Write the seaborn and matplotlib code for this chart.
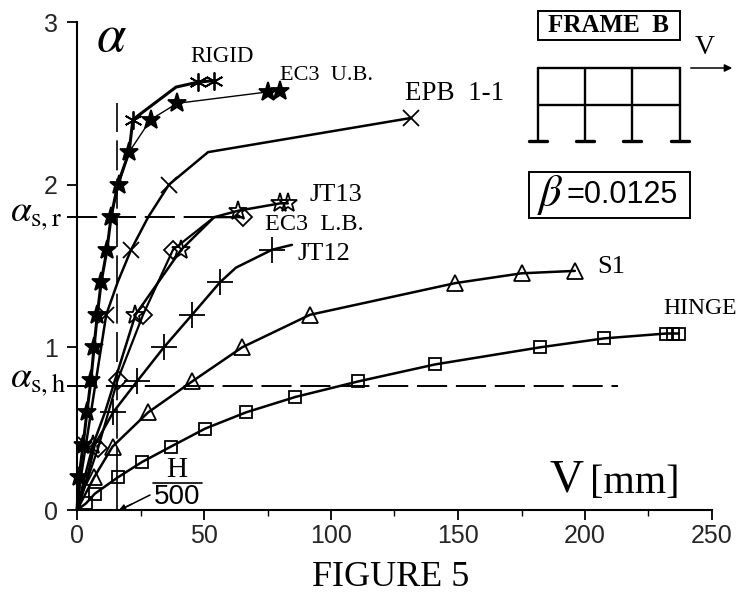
import matplotlib
matplotlib.use("Agg")
import matplotlib.pyplot as plt
import seaborn as sns

sns.set_style("ticks")
plt.rcParams["font.family"] = ["Liberation Serif", "DejaVu Serif"]
plt.rcParams["mathtext.fontset"] = "stix"

# ---------------- curves ----------------
rigid_v = [0, 0.8, 2.4, 3.9, 5.5, 6.7, 8, 9.5, 11.8, 13.4, 16, 20.5, 22, 39, 47.6, 54]
rigid_a = [0, 0.2, 0.4, 0.6, 0.8, 1.0, 1.2, 1.4, 1.6, 1.8, 2.0, 2.2, 2.4, 2.6, 2.63, 2.64]
rigid_marks = [12, 14, 15]

ub_v = [0, 0.8, 2.4, 3.9, 5.5, 6.7, 8, 9.5, 11.8, 13.4, 16.5, 20.5, 29, 39.4, 75, 80]
ub_a = [0, 0.2, 0.4, 0.6, 0.8, 1.0, 1.2, 1.4, 1.6, 1.8, 2.0, 2.2, 2.4, 2.5, 2.57, 2.575]

epb_v = [0, 1.5, 3.5, 5.5, 7.5, 9.5, 11.5, 16, 21.3, 28, 36.2, 51.6, 131.5]
epb_a = [0, 0.2, 0.4, 0.6, 0.8, 1.0, 1.2, 1.4, 1.6, 1.8, 2.0, 2.2, 2.41]
epb_marks = [2, 6, 8, 10, 12]

jt13_v = [0, 3, 6.3, 11, 15, 19, 23, 32, 41, 54, 63.5, 80, 83]
jt13_a = [0, 0.2, 0.4, 0.6, 0.8, 1.0, 1.2, 1.4, 1.6, 1.8, 1.84, 1.885, 1.885]
jt13_marks = [2, 6, 8, 10, 11, 12]

lb_v = [0, 8.3, 16, 26, 37.8, 54, 65.5]
lb_a = [0, 0.38, 0.8, 1.2, 1.6, 1.8, 1.8]
lb_marks = [1, 2, 3, 4, 6]

jt12_v = [0, 4, 7, 14.2, 23.6, 34.2, 45.3, 56.3, 62.6, 76.8, 84.6]
jt12_a = [0, 0.2, 0.4, 0.6, 0.79, 1.0, 1.2, 1.4, 1.49, 1.6, 1.63]
jt12_marks = [3, 4, 5, 6, 7, 9]

s1_v = [0, 6.7, 14, 28, 45.3, 65, 91.7, 149, 175, 196]
s1_a = [0, 0.2, 0.39, 0.6, 0.79, 1.0, 1.2, 1.395, 1.455, 1.47]

hinge_v = [0, 3.5, 7, 16, 25.6, 37, 50.4, 66.5, 86, 110.6, 141, 182.3, 207.5, 232, 234.5, 237]
hinge_a = [0, 0.04, 0.1, 0.2, 0.295, 0.39, 0.5, 0.6, 0.695, 0.79, 0.895, 1.0, 1.055, 1.085, 1.085, 1.085]

x_ticks = [0, 50, 100, 150, 200, 250]
y_ticks = [0, 1, 2, 3]

W, H = 738, 592
fig = plt.figure(figsize=(W / 100, H / 100), dpi=100)
ax = fig.add_axes([77 / W, 1 - 510 / H, (712 - 77) / W, (510 - 22) / H])


def curve(v, a, marker, size, lw=1.8, marks=None, filled=False):
    sns.lineplot(x=v, y=a, ax=ax, color="black", lw=lw, marker=marker, ms=size,
                 mec="black", mew=1.3, mfc="black" if filled else "none",
                 markevery=marks, estimator=None, sort=False, errorbar=None, clip_on=False)


curve(rigid_v, rigid_a, (6, 2, 0), 13, lw=2.2, marks=rigid_marks)
curve(ub_v, ub_a, "*", 14, lw=1.0, marks=list(range(1, len(ub_v))), filled=True)
curve(epb_v, epb_a, "x", 11, marks=epb_marks)
curve(jt13_v, jt13_a, "*", 14, marks=jt13_marks)
curve(lb_v, lb_a, "D", 9, lw=1.6, marks=lb_marks)
curve(jt12_v, jt12_a, "+", 19, marks=jt12_marks)
curve(s1_v, s1_a, "^", 11, marks=list(range(1, len(s1_v))))
curve(hinge_v, hinge_a, "s", 9, marks=list(range(1, len(hinge_v))))

# limit lines for alpha_s,r / alpha_s,h and the H/500 drift
ax.plot([-4, 65], [1.8, 1.8], color="black", lw=1.4, dashes=(15.5, 4.5), clip_on=False)
ax.plot([-4, 213], [0.76, 0.76], color="black", lw=1.4, dashes=(15.5, 4.5), clip_on=False)
ax.plot([15.6, 15.6], [0.2, 2.5], color="black", lw=1.2, dashes=(18, 5))
ax.plot([15.6, 15.6], [0, 0.2], color="black", lw=1.2)

ax.set_xlim(0, 250)
ax.set_ylim(0, 3)
ax.set_xticks(x_ticks)
ax.set_yticks(y_ticks)
ax.set_xticks([25, 75, 125, 175, 225], minor=True)
ax.tick_params(which="major", length=7, width=1.3, labelsize=18, color="black")
ax.tick_params(axis="x", pad=3)
ax.tick_params(axis="y", pad=7)
ax.tick_params(which="minor", length=4, width=1.0, color="black")
for lab in ax.get_xticklabels() + ax.get_yticklabels():
    lab.set_family(["Liberation Sans"])
sns.despine(ax=ax)
for s in ["left", "bottom"]:
    ax.spines[s].set_linewidth(1.5)
    ax.spines[s].set_color("black")

# overlay in picture pixels for the labels and the frame sketch
ov = fig.add_axes([0, 0, 1, 1], facecolor="none")
ov.set_xlim(0, W)
ov.set_ylim(H, 0)
ov.axis("off")


def label(x, y, s, size=15, ha="left", **kw):
    ov.text(x, y, s, fontsize=size, ha=ha, va="center", color="black", **kw)


label(190, 57, "RIGID", size=16.5)
label(280, 75, "EC3  U.B.", size=16)
label(405, 94, "EPB  1-1", size=19.5)
label(309, 195, "JT13", size=19)
label(265, 225, "EC3  L.B.", size=17.5)
label(297, 254, "JT12", size=19)
label(597, 267, "S1", size=19)
label(663, 309, "HINGE", size=17)
label(96, 38, r"$\alpha$", size=38)
label(10, 215, r"$\alpha_{\rm s,r}$", size=27)
label(10, 381, r"$\alpha_{\rm s,h}$", size=27)
label(550, 480, "V", size=34)
label(590, 483, "[mm]", size=29)
label(391, 577, "FIGURE 5", size=26, ha="center")
label(177, 470, "H", size=21, ha="center")
label(177, 497, "500", size=20, ha="center", family=["Liberation Sans"])
ov.plot([153, 202], [483, 483], color="black", lw=1.2)
ov.plot([150, 122], [495, 509], color="black", lw=1.1)
ov.annotate("", xy=(119, 510), xytext=(132, 504),
            arrowprops=dict(arrowstyle="-|>", color="black", lw=1.0, mutation_scale=9,
                            shrinkA=0, shrinkB=0))

# frame sketch
for x in [538, 585, 632, 680]:
    ov.plot([x, x], [68, 140], color="black", lw=1.7)
    ov.plot([x - 9, x + 9], [141, 141], color="black", lw=2.4)
for y in [68, 105]:
    ov.plot([538, 680], [y, y], color="black", lw=1.7)
ov.annotate("", xy=(735, 68), xytext=(688, 68),
            arrowprops=dict(arrowstyle="-|>", color="black", lw=1.1, mutation_scale=11))
label(705, 48, "V", size=20, ha="center")

ov.add_patch(plt.Rectangle((538, 11), 142, 29, fc="white", ec="black", lw=1.4))
label(609, 26, "FRAME  B", size=18, ha="center", weight="bold")
ov.add_patch(plt.Rectangle((529, 172), 161, 46, fc="white", ec="black", lw=1.4))
label(537, 195, r"$\beta$", size=32)
label(566, 195, "=0.0125", size=22, family=["Liberation Sans"])

fig.savefig("out.png", dpi=100)
